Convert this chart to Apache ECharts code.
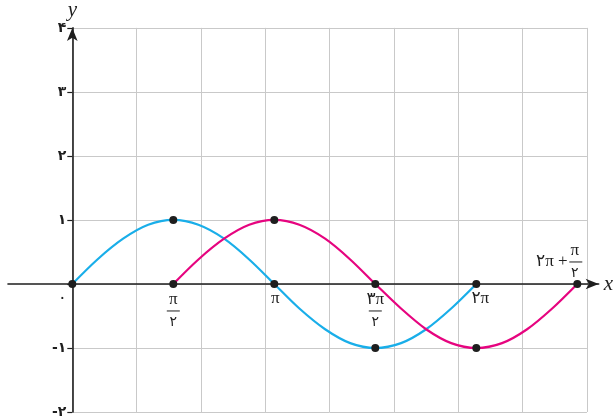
<!DOCTYPE html>
<html>
<head>
<meta charset="utf-8">
<script src="https://cdn.jsdelivr.net/npm/echarts@6/dist/echarts.min.js"></script>
<style>
  html, body { margin: 0; padding: 0; background: #fff; }
  #main { width: 616px; height: 419px; }
</style>
</head>
<body>
<div id="main"></div>
<script>
// sine curve, step of pi/8
const blueX = [0, 0.39, 0.79, 1.18, 1.57, 1.96, 2.36, 2.75, 3.14, 3.53, 3.93, 4.32, 4.71, 5.11, 5.50, 5.89, 6.28];
const blueY = [0, 0.383, 0.707, 0.924, 1, 0.924, 0.707, 0.383, 0, -0.383, -0.707, -0.924, -1, -0.924, -0.707, -0.383, 0];
// shifted curve, starts at pi/2
const pinkX = [1.57, 1.96, 2.36, 2.75, 3.14, 3.53, 3.93, 4.32, 4.71, 5.11, 5.50, 5.89, 6.28, 6.68, 7.07, 7.46, 7.85];
const pinkY = [0, 0.383, 0.707, 0.924, 1, 0.924, 0.707, 0.383, 0, -0.383, -0.707, -0.924, -1, -0.924, -0.707, -0.383, 0];

// black dots on the curves (not on the axis)
const dotX = [1.57, 3.14, 4.71, 6.28];
const dotY = [1, 1, -1, -1];

// points on the x axis and their labels
const tickX = [0, 1.57, 3.14, 4.71, 6.28, 7.85];
const tickLabels = [
  '۰',
  '{n|π}\n{bar| }\n{d|۲}',
  'π',
  '{n|۳π}\n{bar| }\n{d|۲}',
  '۲π',
  '{s| }{n|π}\n{t|۲π +}{bar| }\n{s| }{d|۲}'
];

// y axis labels for -2 .. 4
const yLabels = ['-۲', '-۱', '', '۱', '۲', '۳', '۴'];

const myChart = echarts.init(document.getElementById('main'));

// same pixel size for one unit on both axes
const unit = 64.33;
const gridLeft = 72.3;
const gridTop = 26.7;

const serif = "'Liberation Serif', 'DejaVu Serif', 'DejaVu Sans'";
const persian = "'DejaVu Sans', 'Noto Sans', sans-serif";

const gridColor = '#c9c9c9';
const axisColor = '#1e1e1e';

// offsets for each axis label
const labelLayout = [
  { position: 'bottom', distance: 3, offset: [-10, 0] },
  { position: 'bottom', distance: 5, offset: [0, 0] },
  { position: 'bottom', distance: 3, offset: [1, 0] },
  { position: 'bottom', distance: 5, offset: [0, 0] },
  { position: 'bottom', distance: 3, offset: [4, 0] },
  { position: 'top', distance: 0, offset: [-18, 0] }
];

const richStyle = {
  n: { fontFamily: serif, fontSize: 17, color: axisColor, width: 16, align: 'center', lineHeight: 14 },
  d: { fontFamily: persian, fontSize: 14, color: axisColor, width: 16, align: 'center', lineHeight: 14 },
  bar: { width: 13, height: 1, backgroundColor: axisColor, lineHeight: 8 },
  s: { width: 31, lineHeight: 14 },
  t: { fontFamily: serif, fontSize: 17, color: axisColor, width: 31, align: 'right', lineHeight: 8, padding: [0, 2, 0, 0] }
};

const tickData = tickX.map((x, i) => ({
  value: [x, 0],
  label: {
    show: true,
    formatter: tickLabels[i],
    position: labelLayout[i].position,
    distance: labelLayout[i].distance,
    offset: labelLayout[i].offset,
    fontFamily: serif,
    fontSize: 17,
    color: axisColor,
    lineHeight: 16,
    rich: richStyle
  }
}));

const option = {
  animation: false,
  grid: [
    // grid with the lines and the y axis
    { left: gridLeft, top: gridTop, width: unit * 8, height: unit * 6 },
    // wider grid only for the x axis line
    { left: gridLeft - unit, top: gridTop, width: unit * 9.22, height: unit * 6 }
  ],
  xAxis: [
    {
      type: 'value', gridIndex: 0, min: 0, max: 8, interval: 1,
      axisLine: { show: false }, axisTick: { show: false }, axisLabel: { show: false },
      splitLine: { show: true, lineStyle: { color: gridColor, width: 1 } }
    },
    {
      type: 'value', gridIndex: 1, min: -1, max: 8.22,
      name: 'x', nameLocation: 'end', nameGap: 5,
      nameTextStyle: { fontFamily: serif, fontStyle: 'italic', fontSize: 21, color: axisColor, verticalAlign: 'middle', padding: [0, 0, 4, 0] },
      axisLine: { show: true, onZero: true, symbol: ['none', 'arrow'], symbolSize: [8, 13], lineStyle: { color: axisColor, width: 1.6 } },
      axisTick: { show: false }, axisLabel: { show: false }, splitLine: { show: false }
    }
  ],
  yAxis: [
    {
      type: 'value', gridIndex: 0, min: -2, max: 4, interval: 1,
      name: 'y', nameLocation: 'end', nameGap: 4,
      nameTextStyle: { fontFamily: serif, fontStyle: 'italic', fontSize: 21, color: axisColor, align: 'center' },
      axisLine: { show: true, onZero: false, symbol: ['none', 'arrow'], symbolSize: [8, 13], lineStyle: { color: axisColor, width: 1.6 } },
      axisTick: { show: true, inside: false, length: 5, lineStyle: { color: axisColor, width: 1.2 } },
      axisLabel: {
        margin: 6, fontFamily: persian, fontSize: 14, fontWeight: 'bold', color: axisColor,
        formatter: (v) => yLabels[Math.round(v) + 2]
      },
      splitLine: { show: true, lineStyle: { color: gridColor, width: 1 } }
    },
    { type: 'value', gridIndex: 1, min: -2, max: 4, show: false }
  ],
  series: [
    {
      type: 'line', xAxisIndex: 0, yAxisIndex: 0, smooth: 0.3, clip: false,
      showSymbol: false, lineStyle: { color: '#19aee9', width: 2.2 },
      data: blueX.map((x, i) => [x, blueY[i]])
    },
    {
      type: 'line', xAxisIndex: 0, yAxisIndex: 0, smooth: 0.3, clip: false,
      showSymbol: false, lineStyle: { color: '#e6047f', width: 2.2 },
      data: pinkX.map((x, i) => [x, pinkY[i]])
    },
    {
      type: 'scatter', xAxisIndex: 0, yAxisIndex: 0, clip: false, z: 5,
      symbolSize: 8, itemStyle: { color: '#1e1e1e', opacity: 1 },
      data: dotX.map((x, i) => [x, dotY[i]])
    },
    {
      type: 'scatter', xAxisIndex: 0, yAxisIndex: 0, clip: false, z: 5,
      symbolSize: 8, itemStyle: { color: '#1e1e1e', opacity: 1 },
      data: tickData
    }
  ]
};

myChart.setOption(option);
</script>
</body>
</html>
